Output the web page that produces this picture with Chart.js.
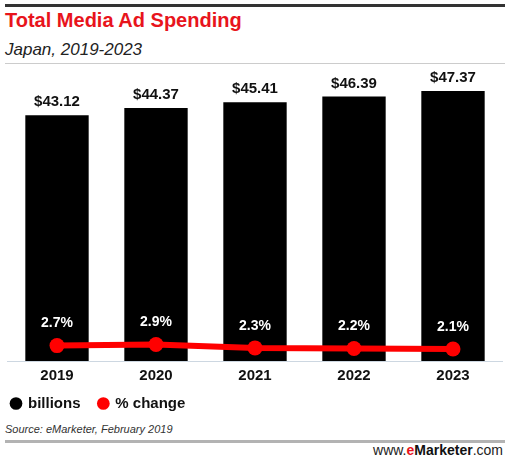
<!DOCTYPE html>
<html>
<head>
<meta charset="utf-8">
<script src="https://cdn.jsdelivr.net/npm/chart.js@4"></script>
<style>
  html, body { margin: 0; padding: 0; background: #fff; }
  #page { position: relative; width: 510px; height: 460px; overflow: hidden; font-family: "Liberation Sans", Arial, sans-serif; }
  .rule { position: absolute; left: 5px; width: 500px; }
  #topRule { top: 4px; height: 3px; background: #333; }
  #subRule { top: 63px; height: 1px; background: #ccc; }
  #footRule { top: 440px; height: 3px; background: #b3b3b3; }
  #title { position: absolute; left: 5px; top: 9px; font-size: 20px; font-weight: bold; color: #e8141c; white-space: nowrap; }
  #subtitle { position: absolute; left: 5px; top: 40px; font-size: 17px; font-style: italic; color: #222; white-space: nowrap; }
  #source { position: absolute; left: 5px; top: 423px; font-size: 11px; font-style: italic; color: #333; white-space: nowrap; }
  #brand { position: absolute; right: 7px; top: 442px; font-size: 14px; color: #222; white-space: nowrap; }
  #brand b { color: #111; }
  #brand .e { color: #e8141c; }
  #chartBox { position: absolute; left: 0; top: 66px; width: 510px; height: 355px; }
</style>
</head>
<body>
<div id="page">
  <div id="topRule" class="rule"></div>
  <div id="title">Total Media Ad Spending</div>
  <div id="subtitle">Japan, 2019-2023</div>
  <div id="subRule" class="rule"></div>
  <div id="chartBox"><canvas id="adCanvas"></canvas></div>
  <div id="source">Source: eMarketer, February 2019</div>
  <div id="footRule" class="rule"></div>
  <div id="brand">www.<b><span class="e">e</span>Marketer</b>.com</div>
</div>
<script>
var years = ['2019', '2020', '2021', '2022', '2023'];
var billions = [43.12, 44.37, 45.41, 46.39, 47.37];
var pctChange = [2.7, 2.9, 2.3, 2.2, 2.1];

var labelFont = '"Liberation Sans", Arial, sans-serif';

// draws the $ values above bars and the % values above points
var valueLabels = {
  id: 'valueLabels',
  afterDatasetsDraw: function(chart) {
    var ctx = chart.ctx;
    ctx.save();
    ctx.textAlign = 'center';
    ctx.textBaseline = 'middle';

    var barMeta = chart.getDatasetMeta(0);
    ctx.font = 'bold 15px ' + labelFont;
    ctx.fillStyle = '#111';
    barMeta.data.forEach(function(el, i) {
      ctx.fillText('$' + billions[i].toFixed(2), el.x, el.y - 13);
    });

    var lineMeta = chart.getDatasetMeta(1);
    ctx.font = 'bold 14px ' + labelFont;
    ctx.fillStyle = '#fff';
    lineMeta.data.forEach(function(el, i) {
      ctx.fillText(pctChange[i].toFixed(1) + '%', el.x, el.y - 22);
    });
    ctx.restore();
  }
};

var ctx = document.getElementById('adCanvas');
var adChart = new Chart(ctx, {
  type: 'bar',
  data: {
    labels: years,
    datasets: [
      {
        type: 'bar',
        label: 'billions',
        data: billions,
        backgroundColor: '#000',
        borderWidth: 0,
        barPercentage: 0.8,
        categoryPercentage: 0.8,
        yAxisID: 'y',
        order: 1,
        pointStyle: 'circle'
      },
      {
        type: 'line',
        label: '% change',
        data: pctChange,
        borderColor: '#ff0000',
        backgroundColor: '#ff0000',
        borderWidth: 6,
        pointRadius: 7.5,
        pointBackgroundColor: '#ff0000',
        pointBorderWidth: 0,
        tension: 0,
        yAxisID: 'y1',
        order: 0,
        pointStyle: 'circle'
      }
    ]
  },
  options: {
    responsive: true,
    maintainAspectRatio: false,
    animation: false,
    layout: { padding: { left: 1.5, right: 5, top: 10, bottom: 0 } },
    scales: {
      x: {
        grid: { display: false, drawTicks: false },
        border: { display: true, color: '#cdd7e1', width: 1 },
        ticks: { color: '#111', padding: 6, font: { family: labelFont, size: 15, weight: 'bold' } },
        afterFit: function(scale) { scale.height = 25; }
      },
      y: {
        position: 'left',
        min: 0,
        max: 50,
        grid: { display: false, drawTicks: false },
        border: { display: false },
        ticks: { display: false },
        afterFit: function(scale) { scale.width = 3.5; }
      },
      y1: {
        display: false,
        min: 0,
        max: 50
      }
    },
    plugins: {
      tooltip: { enabled: false },
      legend: {
        position: 'bottom',
        align: 'start',
        labels: {
          usePointStyle: true,
          boxWidth: 9,
          boxHeight: 9,
          padding: 10,
          color: '#111',
          font: { family: labelFont, size: 15, weight: 'bold' },
          sort: function(a, b) { return a.datasetIndex - b.datasetIndex; },
          generateLabels: function(chart) {
            var items = Chart.defaults.plugins.legend.labels.generateLabels(chart);
            // a little extra room after each label, like the original legend
            items.forEach(function(item) { item.text = item.text + '  '; });
            return items;
          }
        }
      }
    }
  },
  plugins: [valueLabels]
});
</script>
</body>
</html>
